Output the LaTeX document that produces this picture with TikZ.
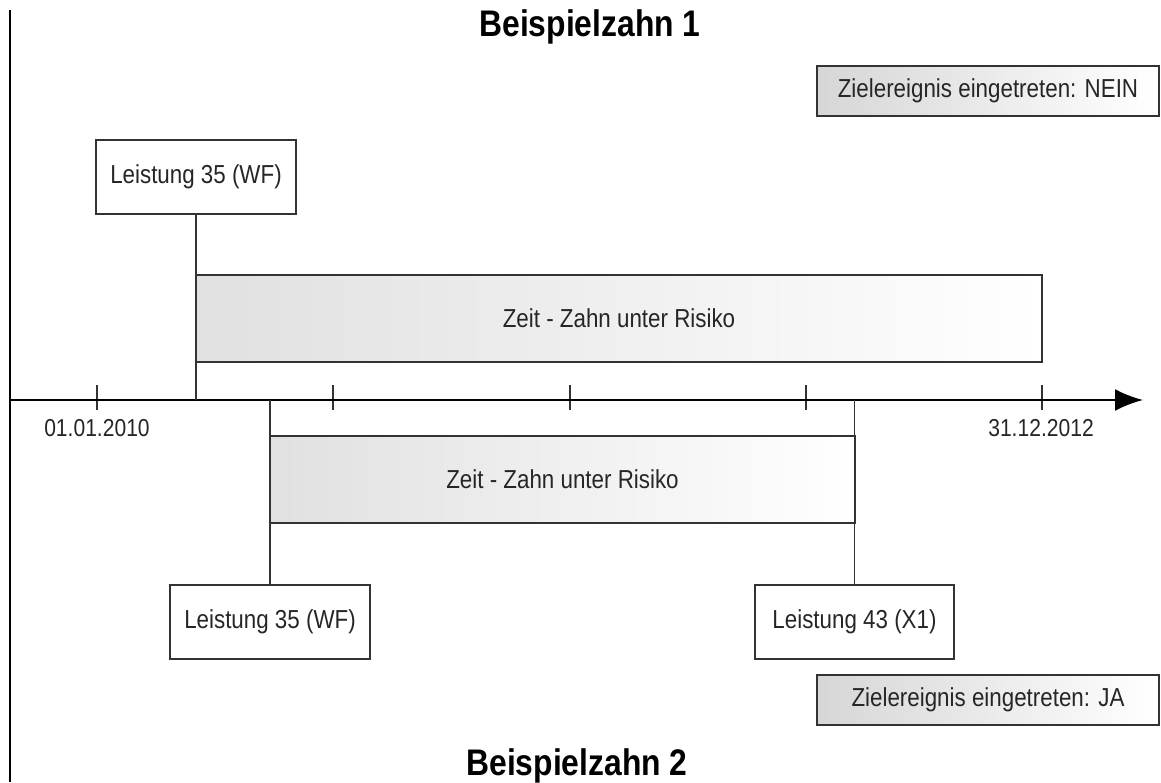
\documentclass[tikz,border=0pt]{standalone}
\usepackage{fontspec}
\setmainfont{Liberation Sans}[FakeStretch=0.86]
\usetikzlibrary{arrows.meta}
\definecolor{ink}{HTML}{262626}
\definecolor{frame}{HTML}{333333}
\tikzset{
  box/.style={draw=frame, line width=2pt, fill=white, minimum width=200pt, minimum height=74pt,
    inner sep=0pt, text=ink, font=\fontsize{26}{28}\selectfont},
  riskbar/.style={draw=frame, line width=2pt, left color=black!12, right color=white,
    minimum height=87pt, inner sep=0pt, text=ink, font=\fontsize{26}{28}\selectfont},
  goalbox/.style={draw=frame, line width=2pt, left color=black!16, right color=white,
    minimum width=342pt, minimum height=50pt, inner sep=0pt, text=ink, font=\fontsize{26}{28}\selectfont},
  datelbl/.style={inner sep=0pt, text=ink, font=\fontsize{24.5}{26}\selectfont},
  titlelbl/.style={inner sep=0pt, anchor=base, font=\fontsize{37}{40}\selectfont\bfseries},
  conn/.style={draw=frame, line width=1.5pt},
  tick/.style={draw=frame, line width=1.5pt},
  axis/.style={draw=black, line width=2.2pt},
}
\begin{document}
\begin{tikzpicture}[x=1pt,y=-1pt]
\useasboundingbox (0,0) rectangle (1161,782);
% left border line
\coordinate (lt) at (10,10);
\coordinate (lb) at (10,782);
\draw[axis, line width=2pt] (lt) -- (lb);

% titles
\node[titlelbl] (t1) at (590,36) {Beispielzahn 1};
\node[titlelbl] (t2) at (577,775) {Beispielzahn 2};

% goal boxes
\node[goalbox] (goal1) at (988,91) {Zielereignis eingetreten: NEIN};
\node[goalbox] (goal2) at (988,700) {Zielereignis eingetreten: JA};

% top example
\node[box] (top35) at (196,177) {Leistung 35 (WF)};
\node[riskbar, minimum width=846pt] (bar1) at (619,318.5) {Zeit - Zahn unter Risiko};

% bottom example
\node[riskbar, minimum width=585pt] (bar2) at (562.5,479) {Zeit - Zahn unter Risiko};
\node[box] (bot35) at (270,622) {Leistung 35 (WF)};
\node[box, minimum width=199pt] (bot43) at (854.5,622) {Leistung 43 (X1)};

% axis
\coordinate (axL) at (10,400);
\coordinate (axR) at (1143,400);
\foreach \x/\n in {97/a,333/b,570/c,806/d,1042/e}{
  \coordinate (tk\n) at (\x,400);
  \draw[tick] (\x,385) -- (\x,410);
}
\draw[axis, -{Latex[length=28pt,width=22pt]}] (axL) -- (axR);

% connectors
\draw[conn] (top35.south) -- (top35.south |- axL);
\draw[conn] (bot35.north) -- (bot35.north |- axL);
\draw[conn] (bot43.north) -- (bot43.north |- axL);

% date labels
\node[datelbl] (d1) at (97,428) {01.01.2010};
\node[datelbl] (d2) at (1041,428) {31.12.2012};
\end{tikzpicture}
\end{document}
